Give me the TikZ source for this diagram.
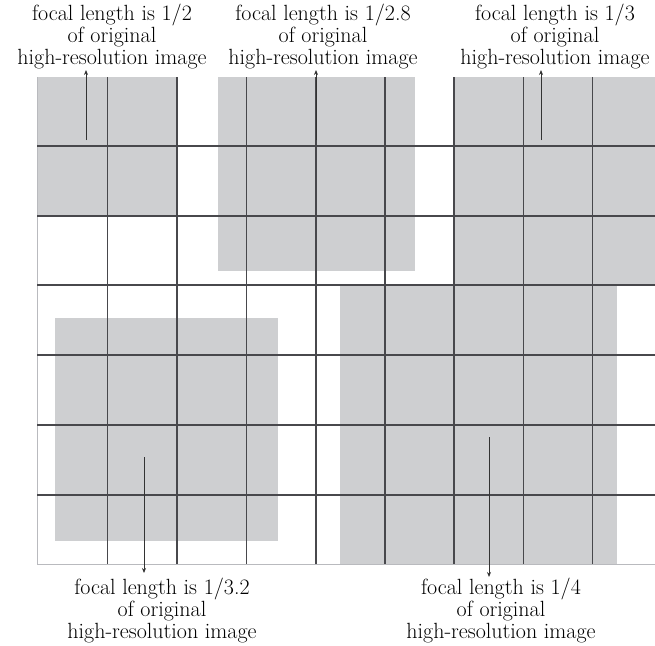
\documentclass[tikz,border=0pt]{standalone}
\usetikzlibrary{arrows.meta}
\definecolor{cellgray}{RGB}{206,207,209}
\definecolor{gridline}{RGB}{72,72,76}
\definecolor{framegray}{RGB}{185,186,190}
\begin{document}
\begin{tikzpicture}[x=1pt,y=-1pt,
  gridln/.style={draw=gridline, line width=1.1pt},
  framel/.style={draw=framegray, line width=0.8pt},
  patch/.style={fill=cellgray, draw=none},
  lbl/.style={align=center, font=\fontsize{22}{22}\selectfont, inner sep=0pt},
  arr/.style={draw=black!80, line width=0.8pt, -{Stealth[length=5pt,width=4pt]}}]
\useasboundingbox (0,0) rectangle (655,645);
% gray patches
\path[patch] (37,77) rectangle (177,216);
\path[patch] (218,77) rectangle (415,271);
\path[patch] (453,77) rectangle (655,285);
\path[patch] (340,285) rectangle (617,564);
\path[patch] (55,318) rectangle (278,541);
% frame
\draw[framel] (37,77) -- (37,564) -- (655,564);
% grid
\foreach \x in {107.5,177,246.5,316,385,454,523.5,592.5}
  \draw[gridln] (\x,77) -- (\x,564);
\foreach \y in {146,216,285,355,425,495}
  \draw[gridln] (37,\y) -- (655,\y);
% labels
\node[lbl] (lbl1) at (112,37) {focal length is 1/2\\of original\\high-resolution image};
\node[lbl] (lbl2) at (323,37) {focal length is 1/2.8\\of original\\high-resolution image};
\node[lbl] (lbl3) at (555,37) {focal length is 1/3\\of original\\high-resolution image};
\node[lbl] (lbl4) at (162,610) {focal length is 1/3.2\\of original\\high-resolution image};
\node[lbl] (lbl5) at (501,610) {focal length is 1/4\\of original\\high-resolution image};
% arrows
\coordinate (a1) at (86,140);  \coordinate (t1) at (86,70);
\coordinate (a2) at (316,140); \coordinate (t2) at (316,70);
\coordinate (a3) at (541,140); \coordinate (t3) at (541,70);
\coordinate (a4) at (144,457); \coordinate (t4) at (144,573);
\coordinate (a5) at (489,437); \coordinate (t5) at (489,577);
\draw[arr] (a1) -- (t1);
\draw[arr] (a2) -- (t2);
\draw[arr] (a3) -- (t3);
\draw[arr] (a4) -- (t4);
\draw[arr] (a5) -- (t5);
\end{tikzpicture}
\end{document}
